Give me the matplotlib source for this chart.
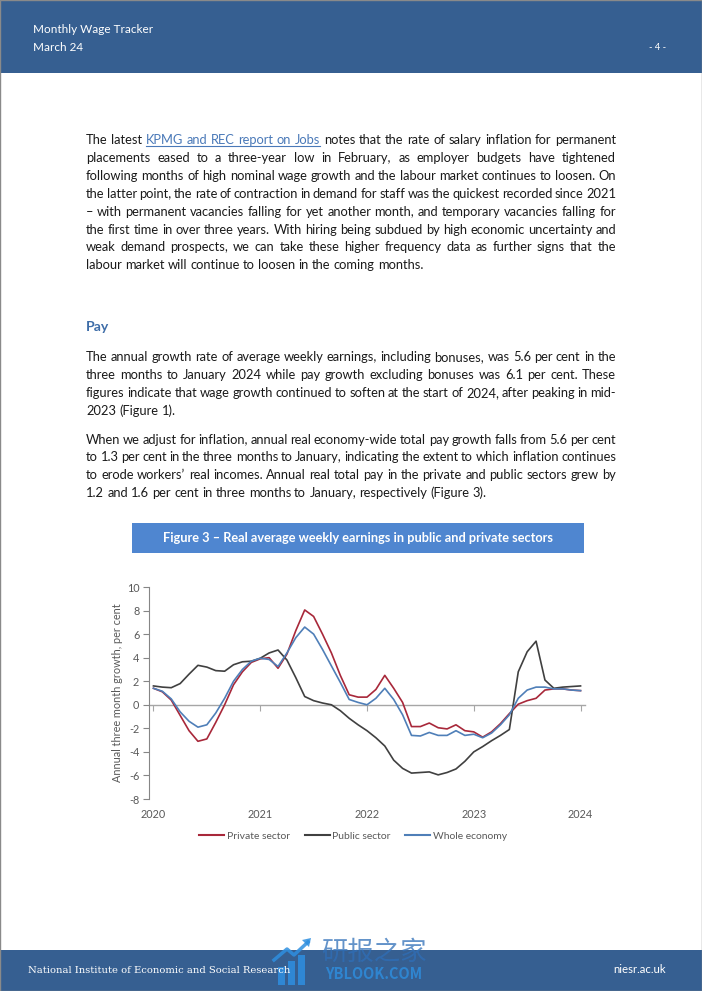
import matplotlib
matplotlib.use("Agg")
import matplotlib.pyplot as plt
import numpy as np
import pandas as pd
from matplotlib.patches import Rectangle, Polygon
from matplotlib.lines import Line2D

plt.rcParams['axes.unicode_minus'] = False

# ---------------- data ----------------
months = pd.date_range('2020-01-01', '2024-01-01', freq='MS')
private_sector = [1.4, 1.1, 0.4, -0.9, -2.2, -3.1, -2.9, -1.5, 0.0, 1.7,
                  2.8, 3.6, 3.9, 4.0, 3.1, 4.3, 6.3, 8.05, 7.5, 6.0,
                  4.4, 2.5, 0.85, 0.65, 0.65, 1.3, 2.5, 1.4, 0.2, -1.85,
                  -1.85, -1.55, -1.95, -2.05, -1.7, -2.2, -2.3, -2.75, -2.3, -1.6,
                  -0.75, 0.05, 0.35, 0.55, 1.25, 1.35, 1.35, 1.25, 1.2]
public_sector = [1.6, 1.5, 1.45, 1.8, 2.6, 3.35, 3.2, 2.9, 2.85, 3.4,
                 3.65, 3.7, 3.95, 4.4, 4.65, 3.8, 2.3, 0.7, 0.35, 0.15,
                 0.0, -0.5, -1.15, -1.7, -2.2, -2.8, -3.5, -4.7, -5.4, -5.8,
                 -5.75, -5.7, -5.95, -5.75, -5.45, -4.8, -4.0, -3.55, -3.05, -2.6,
                 -2.1, 2.8, 4.5, 5.4, 2.1, 1.4, 1.5, 1.55, 1.6]
whole_economy = [1.4, 1.15, 0.5, -0.6, -1.4, -1.9, -1.7, -0.7, 0.55, 2.0,
                 3.0, 3.7, 3.95, 3.85, 3.25, 4.4, 5.7, 6.6, 6.0, 4.7,
                 3.3, 1.9, 0.45, 0.2, 0.0, 0.55, 1.4, 0.45, -0.85, -2.6,
                 -2.65, -2.35, -2.6, -2.6, -2.2, -2.6, -2.5, -2.8, -2.4, -1.7,
                 -0.85, 0.55, 1.25, 1.5, 1.5, 1.35, 1.35, 1.25, 1.2]
series_names = ['Private sector', 'Public sector', 'Whole economy']
y_ticks = [-8, -6, -4, -2, 0, 2, 4, 6, 8, 10]
y_label = 'Annual three month growth, per cent'
chart_title = 'Figure 3 \u2013 Real average weekly earnings in public and private sectors'

para1 = [
    "The latest KPMG and REC report on Jobs notes that the rate of salary inflation for permanent",
    "placements eased to a three-year low in February, as employer budgets have tightened",
    "following months of high nominal wage growth and the labour market continues to loosen. On",
    "the latter point, the rate of contraction in demand for staff was the quickest recorded since 2021",
    "\u2013 with permanent vacancies falling for yet another month, and temporary vacancies falling for",
    "the first time in over three years. With hiring being subdued by high economic uncertainty and",
    "weak demand prospects, we can take these higher frequency data as further signs that the",
    "labour market will continue to loosen in the coming months.",
]
para2 = [
    "The annual growth rate of average weekly earnings, including bonuses, was 5.6 per cent in the",
    "three months to January 2024 while pay growth excluding bonuses was 6.1 per cent. These",
    "figures indicate that wage growth continued to soften at the start of 2024, after peaking in mid-",
    "2023 (Figure 1).",
]
para3 = [
    "When we adjust for inflation, annual real economy-wide total pay growth falls from 5.6 per cent",
    "to 1.3 per cent in the three months to January, indicating the extent to which inflation continues",
    "to erode workers\u2019 real incomes. Annual real total pay in the private and public sectors grew by",
    "1.2 and 1.6 per cent in three months to January, respectively (Figure 3).",
]

# ---------------- style ----------------
W, H = 702, 991
BAND = '#365F91'
TEXT = '#1A1A1A'
LINK = '#4A79B8'
HEAD = '#3E6DA8'
TITLEBOX = '#4F86D0'
GRAY = '#595959'
C_PRIV = '#A8283A'
C_PUB = '#404040'
C_WHOLE = '#4F7FB8'
FONT = 'Lato'

fig = plt.figure(figsize=(W / 100, H / 100), dpi=100)
fig.patch.set_facecolor('white')
renderer = fig.canvas.get_renderer()


def X(px):
    return px / W


def Y(py):
    return 1 - py / H


def text_width(s, size, weight='normal', family=FONT):
    t = fig.text(0, 0, s, fontsize=size, weight=weight, family=family)
    w = t.get_window_extent(renderer).width
    t.remove()
    return w


def fit_size(s, target, weight='normal', family=FONT):
    return 10 * target / text_width(s, 10, weight, family)


def rect(x0, y0, x1, y1, color, **kw):
    fig.add_artist(Rectangle((X(x0), Y(y1)), (x1 - x0) / W, (y1 - y0) / H,
                             transform=fig.transFigure, facecolor=color,
                             edgecolor='none', **kw))


# header / footer bands
rect(0, 0, W, 73, BAND)
rect(0, 950, W, H, BAND)

hsize = fit_size('Monthly Wage Tracker', 119)
fig.text(X(33), Y(33), 'Monthly Wage Tracker', fontsize=hsize, family=FONT,
         color='white', va='baseline')
fig.text(X(33), Y(51), 'March 24', fontsize=hsize, family=FONT,
         color='white', va='baseline')
fig.text(X(666), Y(50), '- 4 -', fontsize=hsize * 0.8, family=FONT,
         color='white', va='baseline', ha='right')

fsize = fit_size('National Institute of Economic and Social Research', 264,
                 family='DejaVu Serif')
fig.text(X(28), Y(973), 'National Institute of Economic and Social Research',
         fontsize=fsize, family='DejaVu Serif', color='white', va='baseline')
fig.text(X(666), Y(973), 'niesr.ac.uk', fontsize=fit_size('niesr.ac.uk', 53),
         family=FONT, color='white', va='baseline', ha='right')

# ---------------- body text (justified) ----------------
L, R = 86, 616
words4 = para1[3].split(' ')
w0 = sum(text_width(w, 10) for w in words4)
body_size = 10 * (R - L - (len(words4) - 1) * 2.2) / w0
space_w = text_width('a a', body_size) - text_width('aa', body_size)


def draw_line(line, y, justify, link=None):
    words = line.split(' ')
    items = []
    for i, w in enumerate(words):
        col = LINK if (link and link[0] <= i < link[1]) else TEXT
        t = fig.text(0, Y(y), w, fontsize=body_size, family=FONT, color=col,
                     va='baseline')
        items.append((t, t.get_window_extent(renderer).width))
    total = sum(wd for _, wd in items)
    n = len(items)
    gap = (R - L - total) / (n - 1) if (justify and n > 1) else space_w
    x = L
    xs = []
    for t, wd in items:
        t.set_x(X(x))
        xs.append((x, x + wd))
        x += wd + gap
    if link:
        x0 = xs[link[0]][0]
        x1 = xs[link[1] - 1][1]
        fig.add_artist(Line2D([X(x0), X(x1)], [Y(y + 2), Y(y + 2)],
                              transform=fig.transFigure, color=LINK, lw=0.8))


def draw_para(lines, y0, step=17.9, link_first=None):
    for i, line in enumerate(lines):
        draw_line(line, y0 + i * step, i < len(lines) - 1,
                  link=link_first if i == 0 else None)


draw_para(para1, 144, link_first=(2, 8))
fig.text(X(86), Y(331), 'Pay', fontsize=fit_size('Pay', 23, 'bold'), family=FONT,
         weight='bold', color=HEAD, va='baseline')
draw_para(para2, 361)
draw_para(para3, 443.5)

# figure title box
rect(132, 523, 584, 553, TITLEBOX)
fig.text(X(358), Y(538), chart_title, fontsize=fit_size(chart_title, 392, 'bold'),
         family=FONT, weight='bold', color='white', ha='center', va='center')

# ---------------- chart ----------------
ax = fig.add_axes([X(149), Y(799), (585 - 149) / W, (799 - 587) / H])
x = np.arange(len(months))
ax.plot(x, private_sector, color=C_PRIV, lw=1.2, label=series_names[0])
ax.plot(x, public_sector, color=C_PUB, lw=1.2, label=series_names[1])
ax.plot(x, whole_economy, color=C_WHOLE, lw=1.2, label=series_names[2])

ymin, ymax = -8, 10
ax.set_ylim(ymin, ymax)
ax.set_xlim(-0.5, len(months) - 0.5)
ax.set_yticks(y_ticks)
year_pos = [i for i, m in enumerate(months) if m.month == 1]
year_lab = [str(months[i].year) for i in year_pos]
ax.set_xticks(year_pos)
ax.set_xticklabels(year_lab)

for s in ['top', 'right', 'bottom']:
    ax.spines[s].set_visible(False)
ax.spines['left'].set_color('#868686')
ax.spines['left'].set_linewidth(0.8)
ax.tick_params(axis='y', direction='out', length=4, color='#868686',
               labelsize=7.8, labelcolor=GRAY, pad=3)
ax.tick_params(axis='x', length=0, labelsize=7.8, labelcolor=GRAY, pad=7)
for lab in ax.get_xticklabels() + ax.get_yticklabels():
    lab.set_family(FONT)

sec = ax.secondary_xaxis((0 - ymin) / (ymax - ymin))
sec.set_xticks(year_pos)
sec.tick_params(direction='out', length=4, color='#A6A6A6', labelbottom=False)
sec.spines['bottom'].set_color('#A6A6A6')
sec.spines['bottom'].set_linewidth(1.0)

ax.set_ylabel(y_label, fontsize=7.8, color=GRAY, family=FONT)
ax.yaxis.set_label_coords((123 - 149) / 436, 0.5)

leg = ax.legend(loc='center', bbox_to_anchor=(0.468, -0.175), ncol=3,
                frameon=False, handlelength=2.4, handletextpad=0.2,
                columnspacing=1.45, prop={'family': FONT, 'size': 7.5})
for t in leg.get_texts():
    t.set_color(GRAY)
for l in leg.get_lines():
    l.set_linewidth(1.5)

# ---------------- watermark ----------------
for i, (bx, bh) in enumerate([(278, 18), (288, 24), (298, 30)]):
    rect(bx, 985 - bh, bx + 7, 985, '#2E8FE0', alpha=0.85)
fig.add_artist(Line2D([X(274), X(287), X(294), X(308)],
                      [Y(960), Y(949), Y(955), Y(942)],
                      transform=fig.transFigure, color='#2E8FE0', lw=2.5, alpha=0.85))
fig.add_artist(Polygon([[X(302), Y(940)], [X(311), Y(938)], [X(309), Y(947)]],
                       closed=True, transform=fig.transFigure,
                       facecolor='#2E8FE0', alpha=0.85))
fig.text(X(374), Y(952), '研报之家', fontsize=19,
         family=['Noto Sans CJK SC', 'DejaVu Sans'], color='#2F6FB8', alpha=0.75,
         ha='center', va='center')
fig.text(X(374), Y(974), 'YBLOOK.COM', fontsize=10.5, weight='bold',
         family=['Noto Sans CJK SC', 'DejaVu Sans'], color='#2E8FE0', alpha=0.8,
         ha='center', va='center')

# page border
fig.add_artist(Rectangle((0, 0), 1, 1, transform=fig.transFigure, fill=False,
                         edgecolor='#8A8A8A', lw=1))

fig.savefig('out.png', dpi=100)
